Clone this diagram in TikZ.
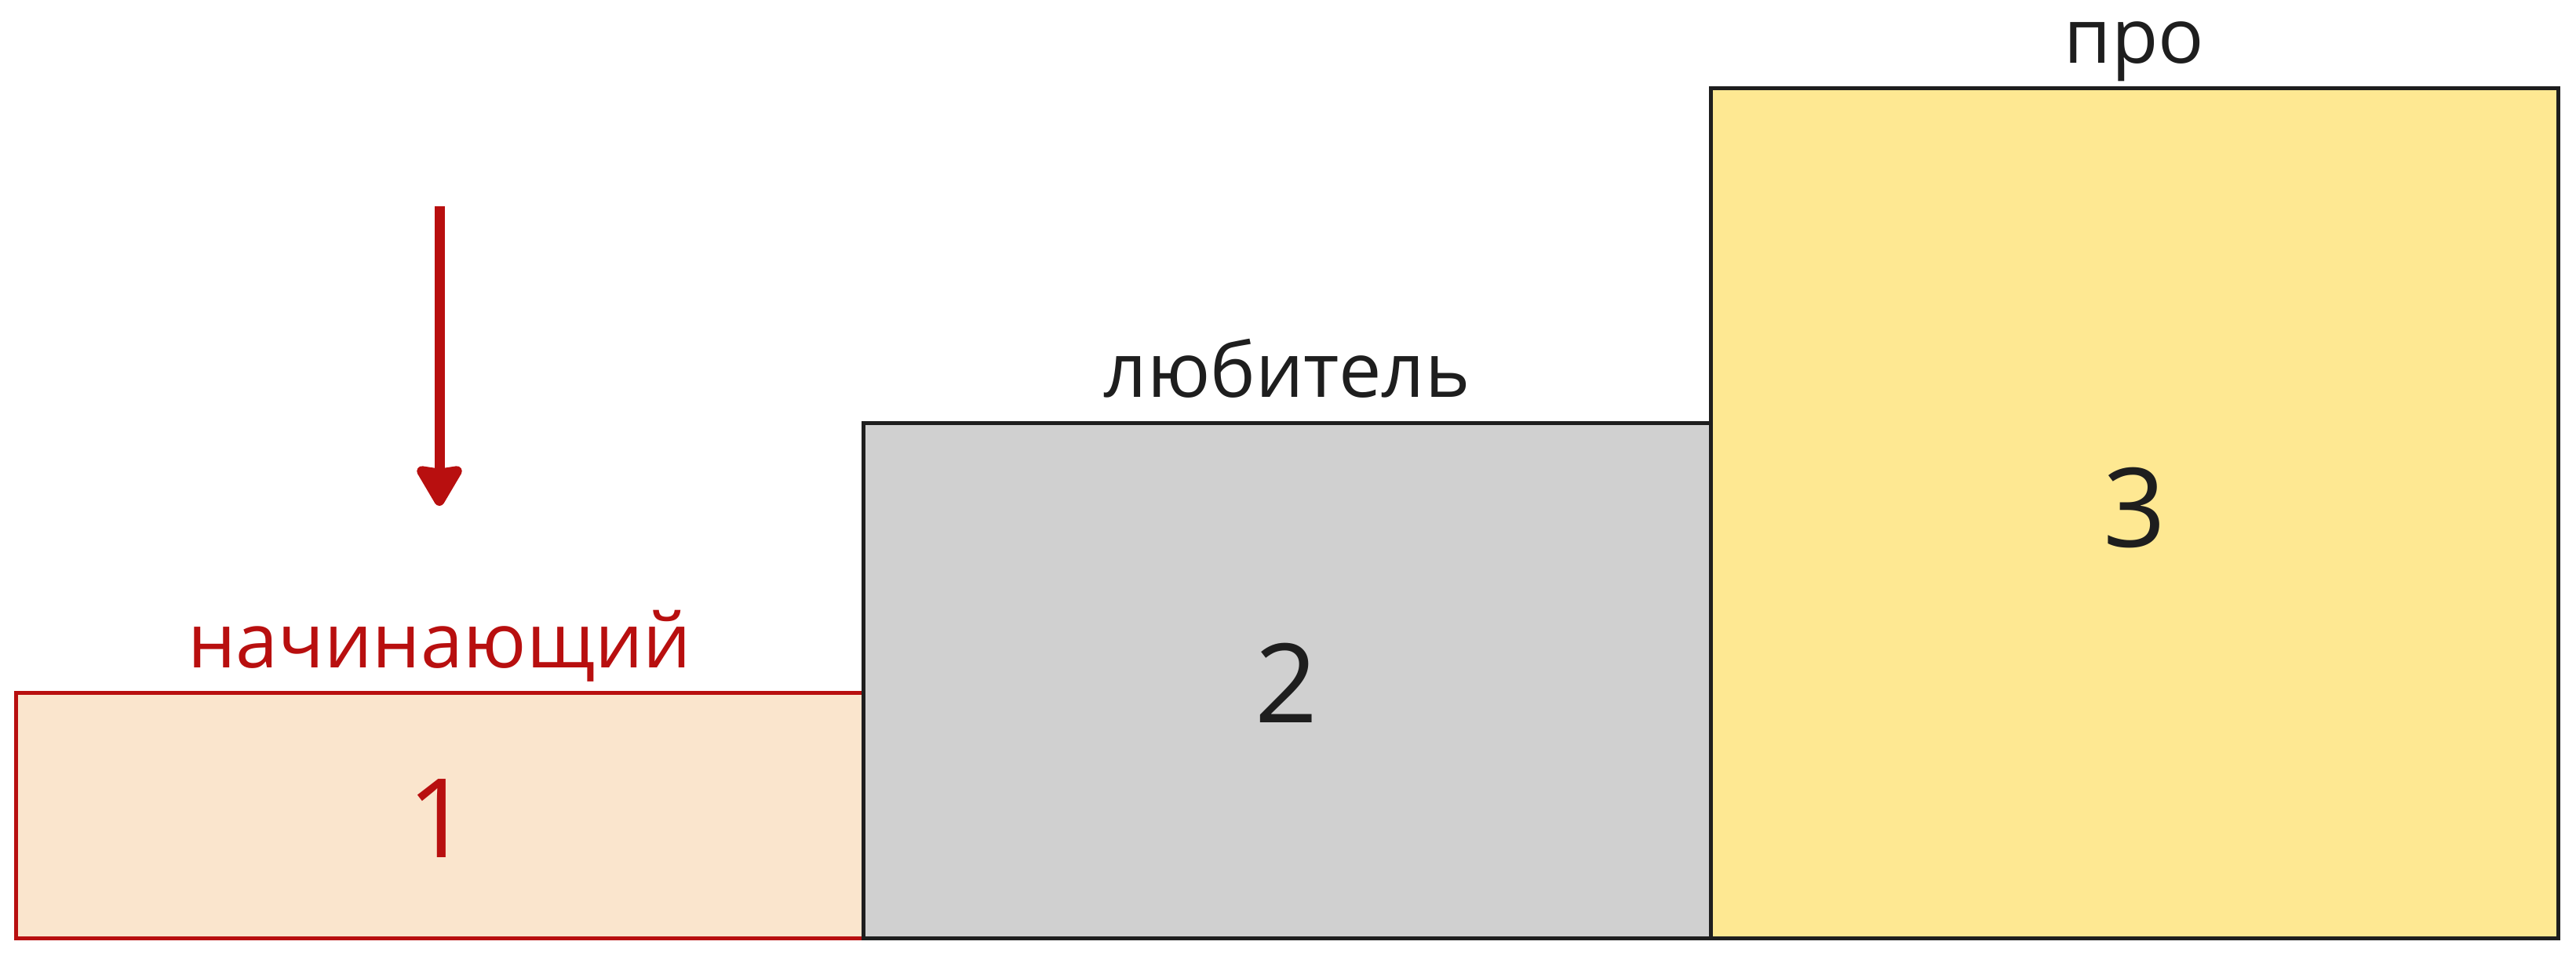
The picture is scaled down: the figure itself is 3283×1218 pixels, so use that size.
\documentclass[tikz,border=0pt]{standalone}
\usepackage{fontspec}
\setmainfont{Open Sans}
\usetikzlibrary{arrows.meta}
\definecolor{cred}{HTML}{B80F0F}
\definecolor{cdark}{HTML}{1E1E1E}
\definecolor{fpeach}{HTML}{FAE5CD}
\definecolor{fgray}{HTML}{D0D0D0}
\definecolor{fyellow}{HTML}{FEE892}
\tikzset{
  stepblock/.style={line width=5pt, line join=miter},
  levellabel/.style={anchor=base, inner sep=0pt, font=\fontsize{97}{116}\selectfont},
  levelnum/.style={anchor=base, inner sep=0pt, font=\fontsize{140}{160}\selectfont},
}
\begin{document}
\begin{tikzpicture}[x=1pt, y=-1pt]
\useasboundingbox (0,0) rectangle (3283,1218);
% boxes
\draw[stepblock, draw=cred, fill=fpeach] (20,883) rectangle (1100,1196);
\draw[stepblock, draw=cdark, fill=fgray] (1100,539.5) rectangle (2180,1196);
\draw[stepblock, draw=cdark, fill=fyellow] (2180,112) rectangle (3260,1196);
% numbers
\node[levelnum, text=cred] (n1) at (560,1093) {1};
\node[levelnum, text=cdark] (n2) at (1640,921) {2};
\node[levelnum, text=cdark] (n3) at (2720,697) {3};
% labels
\node[levellabel, text=cred] (l1) at (560,851) {начинающий};
\node[levellabel, text=cdark] (l2) at (1640,506) {любитель};
\node[levellabel, text=cdark] (l3) at (2720,80) {про};
% arrow
\coordinate (a0) at (560,263);
\coordinate (a1) at (560,645);
\draw[cred, line width=13pt, -{Stealth[length=58pt, width=66pt, inset=4pt, round]}] (a0) -- (a1);
\end{tikzpicture}
\end{document}
